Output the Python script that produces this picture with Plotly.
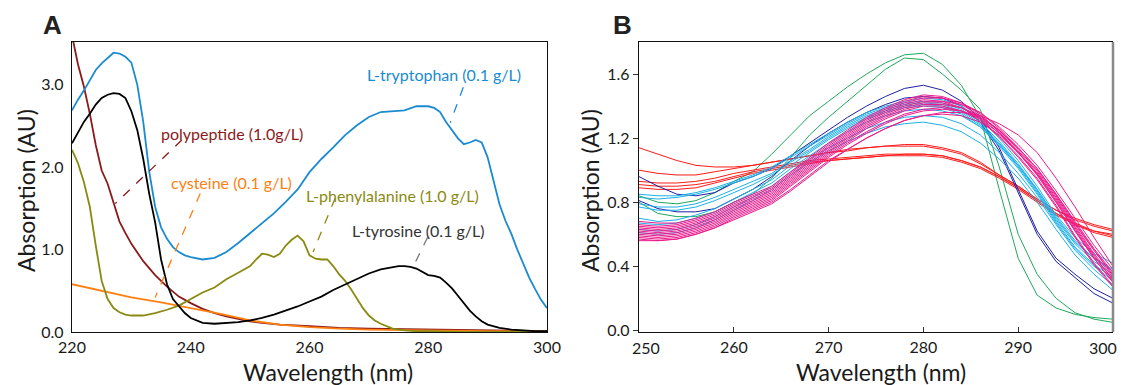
import plotly.graph_objects as go

# ---------------- Panel A data ----------------
trp_x = [220, 221, 222, 223, 224, 225, 226, 227, 228, 229, 230, 231, 232, 233, 234, 235, 236, 237, 238, 239, 240,
         242, 244, 246, 248, 250, 252, 254, 256, 258, 260, 262, 264, 266, 268, 270, 272, 274, 276, 278, 280,
         281, 282, 283, 284, 285, 286, 287, 288, 289, 290, 291, 292, 293, 294, 295, 296, 297, 298, 299, 300]
trp_y = [2.69, 2.82, 2.93, 3.05, 3.18, 3.26, 3.32, 3.39, 3.38, 3.34, 3.27, 3.00, 2.55, 1.95, 1.52, 1.27, 1.13, 1.03, 0.97, 0.93, 0.91,
         0.88, 0.90, 0.97, 1.08, 1.20, 1.31, 1.44, 1.58, 1.73, 1.94, 2.10, 2.24, 2.39, 2.51, 2.61, 2.67, 2.68, 2.69, 2.74, 2.74,
         2.72, 2.67, 2.55, 2.45, 2.35, 2.28, 2.30, 2.33, 2.30, 2.12, 1.84, 1.55, 1.35, 1.19, 1.00, 0.83, 0.66, 0.52, 0.39, 0.29]

tyr_x = [220, 221, 222, 223, 224, 225, 226, 227, 228, 229, 230, 231, 232, 233, 234, 235, 236, 237, 238, 239, 240,
         242, 244, 246, 248, 250, 252, 254, 256, 258, 260, 262, 264, 266, 268, 270, 272, 274, 275, 276, 277, 278,
         279, 280, 281, 282, 283, 284, 285, 286, 287, 288, 289, 290, 292, 294, 296, 298, 300]
tyr_y = [2.29, 2.42, 2.55, 2.65, 2.76, 2.84, 2.88, 2.90, 2.89, 2.84, 2.68, 2.45, 2.10, 1.68, 1.33, 0.88, 0.58, 0.40, 0.31, 0.23, 0.17,
         0.11, 0.10, 0.11, 0.12, 0.14, 0.17, 0.21, 0.26, 0.31, 0.37, 0.43, 0.51, 0.58, 0.65, 0.71, 0.76, 0.79, 0.80, 0.80, 0.79, 0.77,
         0.73, 0.69, 0.68, 0.66, 0.60, 0.53, 0.44, 0.35, 0.26, 0.19, 0.13, 0.09, 0.05, 0.03, 0.02, 0.01, 0.01]

phe_x = [220, 221, 222, 223, 224, 225, 226, 227, 228, 229, 230, 232, 234, 236, 238, 240, 242, 244, 246, 248, 250,
         251, 252, 253, 254, 255, 256, 257, 258, 259, 260, 261, 262, 263, 264, 265, 266, 267, 268, 269, 270,
         271, 272, 274, 276, 278, 280, 285, 290, 295, 300]
phe_y = [2.21, 2.05, 1.82, 1.52, 1.05, 0.62, 0.40, 0.29, 0.24, 0.21, 0.20, 0.20, 0.23, 0.27, 0.32, 0.40, 0.48, 0.54, 0.64, 0.72, 0.80,
         0.88, 0.95, 0.94, 0.91, 0.95, 1.05, 1.12, 1.17, 1.10, 0.93, 0.89, 0.88, 0.88, 0.80, 0.70, 0.62, 0.52, 0.40, 0.29, 0.20,
         0.14, 0.10, 0.04, 0.02, 0.01, 0.01, 0.0, 0.0, 0.0, 0.0]

pep_x = [220, 221, 222, 223, 224, 225, 226, 227, 228, 229, 230, 232, 234, 236, 238, 240, 242, 244, 246, 248, 250,
         252, 255, 260, 265, 270, 280, 290, 300]
pep_y = [3.60, 3.25, 2.98, 2.65, 2.27, 1.96, 1.80, 1.58, 1.34, 1.20, 1.07, 0.86, 0.69, 0.55, 0.43, 0.35, 0.28, 0.23, 0.19, 0.16, 0.13,
         0.11, 0.09, 0.07, 0.05, 0.04, 0.03, 0.02, 0.01]

cys_x = [220, 225, 230, 235, 240, 245, 250, 255, 260, 265, 270, 280, 290, 300]
cys_y = [0.58, 0.50, 0.42, 0.36, 0.29, 0.22, 0.14, 0.09, 0.06, 0.04, 0.03, 0.02, 0.01, 0.01]

# labels: text, x, y (data), leader start (x,y), leader end (x,y)
label_text = ["polypeptide (1.0g/L)", "cysteine (0.1 g/L)", "L-phenylalanine (1.0 g/L)",
              "L-tyrosine (0.1 g/L)", "L-tryptophan (0.1 g/L)"]
label_x = [247.0, 246.8, 274.0, 278.3, 282.6]
label_y = [2.41, 1.81, 1.66, 1.23, 3.12]
lead_x0 = [238.5, 241.6, 264.3, 279.9, 285.9]
lead_y0 = [2.33, 1.68, 1.62, 1.15, 2.97]
lead_x1 = [227.3, 234.0, 260.6, 277.3, 283.7]
lead_y1 = [1.56, 0.42, 0.97, 0.77, 2.54]

ticks_a_x = [220, 240, 260, 280, 300]
ticks_a_y = [0, 1, 2, 3]
ticks_b_x = [250, 260, 270, 280, 290, 300]
ticks_b_y = [0, 0.4, 0.8, 1.2, 1.6]

# ---------------- Panel B data ----------------
wl_b = [250, 252, 254, 256, 258, 260, 262, 264, 266, 268, 270, 272, 274, 276, 278, 280, 282, 284, 286, 288, 290, 292, 294, 296, 298, 300]

green_series = [
    [0.84, 0.80, 0.79, 0.81, 0.86, 0.93, 0.99, 1.10, 1.22, 1.34, 1.43, 1.52, 1.60, 1.67, 1.72, 1.73, 1.66, 1.53, 1.33, 0.88, 0.45, 0.22, 0.14, 0.10, 0.08, 0.07],
    [0.80, 0.73, 0.71, 0.71, 0.74, 0.80, 0.85, 0.95, 1.08, 1.22, 1.33, 1.43, 1.53, 1.63, 1.70, 1.69, 1.60, 1.50, 1.38, 1.02, 0.60, 0.35, 0.20, 0.11, 0.07, 0.05],
]
red_series = [
    [1.14, 1.10, 1.06, 1.03, 1.02, 1.02, 1.03, 1.05, 1.07, 1.09, 1.11, 1.13, 1.14, 1.15, 1.16, 1.16, 1.14, 1.11, 1.05, 0.97, 0.90, 0.82, 0.75, 0.70, 0.66, 0.63],
    [1.00, 0.98, 0.97, 0.97, 0.99, 1.01, 1.03, 1.05, 1.07, 1.09, 1.11, 1.12, 1.14, 1.15, 1.15, 1.15, 1.13, 1.10, 1.04, 0.97, 0.90, 0.82, 0.75, 0.69, 0.65, 0.62],
    [0.93, 0.92, 0.92, 0.93, 0.95, 0.98, 1.00, 1.02, 1.04, 1.06, 1.07, 1.08, 1.09, 1.10, 1.10, 1.10, 1.09, 1.06, 1.02, 0.96, 0.89, 0.81, 0.73, 0.67, 0.62, 0.60],
    [0.91, 0.90, 0.90, 0.91, 0.93, 0.96, 0.99, 1.01, 1.03, 1.05, 1.06, 1.07, 1.08, 1.09, 1.09, 1.09, 1.08, 1.05, 1.01, 0.95, 0.88, 0.80, 0.72, 0.66, 0.61, 0.58],
    [0.89, 0.88, 0.88, 0.89, 0.92, 0.95, 0.98, 1.00, 1.02, 1.04, 1.06, 1.07, 1.08, 1.09, 1.10, 1.10, 1.09, 1.06, 1.02, 0.96, 0.89, 0.81, 0.73, 0.66, 0.62, 0.59],
]
navy_series = [
    [0.96, 0.90, 0.85, 0.84, 0.86, 0.92, 0.96, 1.01, 1.09, 1.17, 1.25, 1.33, 1.40, 1.46, 1.51, 1.53, 1.50, 1.43, 1.32, 1.14, 0.88, 0.62, 0.45, 0.35, 0.26, 0.20],
    [0.81, 0.76, 0.74, 0.74, 0.76, 0.82, 0.88, 0.96, 1.06, 1.15, 1.23, 1.30, 1.36, 1.41, 1.45, 1.46, 1.45, 1.40, 1.30, 1.12, 0.86, 0.60, 0.43, 0.33, 0.23, 0.17],
]
cyan_series = [
    [0.85, 0.84, 0.84, 0.86, 0.89, 0.93, 0.97, 1.02, 1.09, 1.16, 1.23, 1.30, 1.36, 1.40, 1.43, 1.45, 1.44, 1.40, 1.32, 1.20, 1.06, 0.90, 0.72, 0.58, 0.48, 0.42],
    [0.83, 0.82, 0.83, 0.85, 0.88, 0.92, 0.96, 1.01, 1.08, 1.15, 1.22, 1.29, 1.35, 1.39, 1.42, 1.43, 1.42, 1.38, 1.30, 1.18, 1.04, 0.88, 0.70, 0.55, 0.45, 0.38],
    [0.79, 0.77, 0.77, 0.79, 0.83, 0.88, 0.93, 0.98, 1.06, 1.13, 1.21, 1.28, 1.34, 1.38, 1.41, 1.42, 1.41, 1.37, 1.29, 1.17, 1.03, 0.87, 0.69, 0.54, 0.43, 0.35],
    [0.77, 0.75, 0.75, 0.77, 0.81, 0.86, 0.91, 0.97, 1.05, 1.12, 1.20, 1.27, 1.33, 1.37, 1.40, 1.41, 1.40, 1.36, 1.28, 1.16, 1.02, 0.86, 0.68, 0.52, 0.41, 0.33],
    [0.70, 0.68, 0.69, 0.72, 0.76, 0.82, 0.88, 0.94, 1.03, 1.11, 1.19, 1.26, 1.32, 1.36, 1.39, 1.40, 1.39, 1.35, 1.27, 1.15, 1.01, 0.85, 0.67, 0.51, 0.40, 0.31],
    [0.67, 0.66, 0.67, 0.70, 0.74, 0.80, 0.86, 0.92, 1.01, 1.09, 1.17, 1.24, 1.30, 1.34, 1.37, 1.38, 1.37, 1.34, 1.27, 1.16, 1.03, 0.88, 0.71, 0.56, 0.45, 0.37],
    [0.63, 0.62, 0.63, 0.66, 0.71, 0.77, 0.83, 0.90, 0.99, 1.07, 1.14, 1.20, 1.26, 1.30, 1.33, 1.34, 1.33, 1.29, 1.22, 1.11, 0.98, 0.83, 0.66, 0.50, 0.38, 0.28],
    [0.61, 0.60, 0.61, 0.64, 0.69, 0.75, 0.81, 0.88, 0.97, 1.05, 1.12, 1.18, 1.23, 1.27, 1.29, 1.30, 1.28, 1.24, 1.17, 1.07, 0.95, 0.80, 0.63, 0.47, 0.35, 0.25],
]
pink_series = [
    [0.68, 0.67, 0.67, 0.70, 0.74, 0.80, 0.85, 0.90, 0.99, 1.08, 1.17, 1.25, 1.33, 1.39, 1.44, 1.47, 1.46, 1.42, 1.35, 1.24, 1.11, 0.97, 0.80, 0.62, 0.45, 0.30],
    [0.66, 0.65, 0.66, 0.69, 0.73, 0.79, 0.84, 0.89, 0.98, 1.07, 1.16, 1.24, 1.32, 1.38, 1.43, 1.46, 1.45, 1.41, 1.34, 1.24, 1.12, 0.99, 0.83, 0.65, 0.48, 0.33],
    [0.65, 0.64, 0.65, 0.68, 0.72, 0.78, 0.83, 0.88, 0.97, 1.06, 1.15, 1.23, 1.31, 1.37, 1.42, 1.45, 1.45, 1.42, 1.36, 1.26, 1.14, 1.01, 0.85, 0.68, 0.51, 0.36],
    [0.64, 0.63, 0.64, 0.67, 0.71, 0.77, 0.82, 0.87, 0.96, 1.05, 1.14, 1.22, 1.30, 1.36, 1.41, 1.44, 1.43, 1.39, 1.32, 1.21, 1.09, 0.95, 0.78, 0.59, 0.42, 0.28],
    [0.63, 0.62, 0.63, 0.66, 0.70, 0.76, 0.81, 0.86, 0.95, 1.04, 1.13, 1.21, 1.29, 1.35, 1.40, 1.43, 1.43, 1.41, 1.36, 1.27, 1.16, 1.03, 0.87, 0.70, 0.53, 0.38],
    [0.62, 0.61, 0.62, 0.65, 0.69, 0.75, 0.80, 0.85, 0.94, 1.03, 1.12, 1.20, 1.28, 1.34, 1.39, 1.42, 1.42, 1.39, 1.33, 1.23, 1.11, 0.98, 0.81, 0.63, 0.46, 0.32],
    [0.61, 0.60, 0.61, 0.64, 0.68, 0.74, 0.79, 0.84, 0.93, 1.02, 1.11, 1.19, 1.27, 1.33, 1.38, 1.41, 1.41, 1.39, 1.34, 1.25, 1.13, 1.00, 0.84, 0.66, 0.50, 0.35],
    [0.60, 0.59, 0.60, 0.63, 0.67, 0.73, 0.78, 0.83, 0.92, 1.01, 1.10, 1.18, 1.26, 1.32, 1.37, 1.40, 1.40, 1.37, 1.31, 1.21, 1.08, 0.94, 0.77, 0.58, 0.41, 0.27],
    [0.59, 0.58, 0.59, 0.62, 0.66, 0.72, 0.77, 0.82, 0.91, 1.00, 1.09, 1.17, 1.24, 1.30, 1.35, 1.38, 1.39, 1.37, 1.32, 1.23, 1.11, 0.97, 0.80, 0.62, 0.45, 0.30],
    [0.58, 0.57, 0.58, 0.61, 0.65, 0.71, 0.76, 0.81, 0.90, 0.99, 1.08, 1.16, 1.23, 1.29, 1.34, 1.37, 1.38, 1.37, 1.33, 1.25, 1.14, 1.01, 0.85, 0.67, 0.50, 0.34],
    [0.57, 0.56, 0.57, 0.60, 0.64, 0.70, 0.75, 0.80, 0.88, 0.97, 1.06, 1.13, 1.20, 1.26, 1.31, 1.34, 1.36, 1.36, 1.34, 1.29, 1.22, 1.11, 0.95, 0.77, 0.58, 0.40],
    [0.56, 0.56, 0.57, 0.60, 0.64, 0.69, 0.74, 0.79, 0.87, 0.96, 1.05, 1.13, 1.20, 1.26, 1.31, 1.34, 1.35, 1.34, 1.30, 1.22, 1.11, 0.98, 0.82, 0.64, 0.47, 0.31],
]

# ---------------- Styles ----------------
FONT = "Lato"
C_TRP, C_TYR, C_PHE, C_PEP, C_CYS = "#1a8bd0", "#000000", "#8a8a12", "#8b1a1a", "#ff7f10"
label_colors = [C_PEP, C_CYS, C_PHE, "#333333", C_TRP]
lead_colors = [C_PEP, C_CYS, C_PHE, "#777777", C_TRP]
group_colors = {"green": "#1fa85a", "red": "#ff1a1a", "navy": "#1f1fa5", "cyan": "#1cb0ea", "pink": "#ec1a8c"}

fig = go.Figure()

for xs, ys, col in [(pep_x, pep_y, C_PEP), (cys_x, cys_y, C_CYS), (phe_x, phe_y, C_PHE),
                    (trp_x, trp_y, C_TRP), (tyr_x, tyr_y, C_TYR)]:
    fig.add_trace(go.Scatter(x=xs, y=ys, mode="lines", line=dict(color=col, width=1.8),
                             xaxis="x", yaxis="y", showlegend=False, hoverinfo="skip"))

for name, group in [("green", green_series), ("red", red_series), ("navy", navy_series),
                    ("cyan", cyan_series), ("pink", pink_series)]:
    for ys in group:
        fig.add_trace(go.Scatter(x=wl_b, y=ys, mode="lines", line=dict(color=group_colors[name], width=1.0),
                                 xaxis="x2", yaxis="y2", showlegend=False, hoverinfo="skip"))

W, H = 1122, 385
xa_dom = [72 / W, 547 / W]
xb_dom = [639 / W, 1113 / W]
y_dom = [1 - 332 / H, 1 - 42 / H]

tickfont = dict(family=FONT, size=16, color="#1a1a1a")

annotations = []
shapes = []
for t, x, y, c in zip(label_text, label_x, label_y, label_colors):
    annotations.append(dict(text=t, x=x, y=y, xref="x", yref="y", showarrow=False,
                            xanchor="center", yanchor="middle",
                            font=dict(family=FONT, size=16, color=c)))
for x0, y0, x1, y1, c in zip(lead_x0, lead_y0, lead_x1, lead_y1, lead_colors):
    shapes.append(dict(type="line", x0=x0, y0=y0, x1=x1, y1=y1, xref="x", yref="y",
                       line=dict(color=c, width=1.3, dash="dash")))

# right border of panel B (grey)
shapes.append(dict(type="line", x0=1, x1=1, y0=0, y1=1, xref="x2 domain", yref="y2 domain",
                   line=dict(color="#8a8a8a", width=2.5)))


def paper_text(text, px, py, size, family=FONT, angle=0, color="#1a1a1a"):
    return dict(text=text, x=px / W, y=1 - py / H, xref="paper", yref="paper", showarrow=False,
                xanchor="center", yanchor="middle", textangle=angle,
                font=dict(family=family, size=size, color=color))


annotations += [
    paper_text("<b>A</b>", 52, 25, 26, family="Liberation Sans", color="#222"),
    paper_text("<b>B</b>", 622, 25, 26, family="Liberation Sans", color="#222"),
    paper_text("Wavelength (nm)", 328, 372, 23),
    paper_text("Wavelength (nm)", 881, 372, 23),
    paper_text("Absorption (AU)", 26, 191, 23, angle=-90),
    paper_text("Absorption (AU)", 590, 191, 23, angle=-90),
]

# end tick labels of panel B sit slightly inward (as in the reference)
for v, shift in [(ticks_b_x[0], 7), (ticks_b_x[-1], -10)]:
    annotations.append(dict(text=str(v), x=v, y=1 - 347 / H, xref="x2", yref="paper", showarrow=False,
                            xanchor="center", yanchor="middle", xshift=shift, font=tickfont))

common = dict(showgrid=False, zeroline=False, showline=True, linecolor="#111", linewidth=1.3,
              tickfont=tickfont, automargin=False)

fig.update_layout(
    width=W, height=H,
    margin=dict(l=0, r=0, t=0, b=0, autoexpand=False),
    paper_bgcolor="white", plot_bgcolor="white",
    font=dict(family=FONT),
    xaxis=dict(domain=xa_dom, range=[220, 300], tickvals=ticks_a_x, ticks="",
               mirror=True, anchor="y", ticklabelstandoff=1, ticklabeloverflow="allow", **common),
    yaxis=dict(domain=y_dom, range=[0, 3.52], tickvals=ticks_a_y, tickformat=".1f", ticks="",
               mirror=True, anchor="x", ticklabelstandoff=4, **common),
    xaxis2=dict(domain=xb_dom, range=[250, 300], tickvals=ticks_b_x,
                ticktext=[""] + [str(v) for v in ticks_b_x[1:-1]] + [""],
                ticks="inside", ticklen=5, tickcolor="#333",
                mirror=True, anchor="y2", ticklabelstandoff=1, **common),
    yaxis2=dict(domain=y_dom, range=[-0.01, 1.80], tickvals=ticks_b_y, tickformat=".1f",
                ticks="outside", ticklen=5, tickcolor="#333",
                mirror=False, anchor="x2", **common),
    annotations=annotations,
    shapes=shapes,
)

fig.write_html("out.html")
